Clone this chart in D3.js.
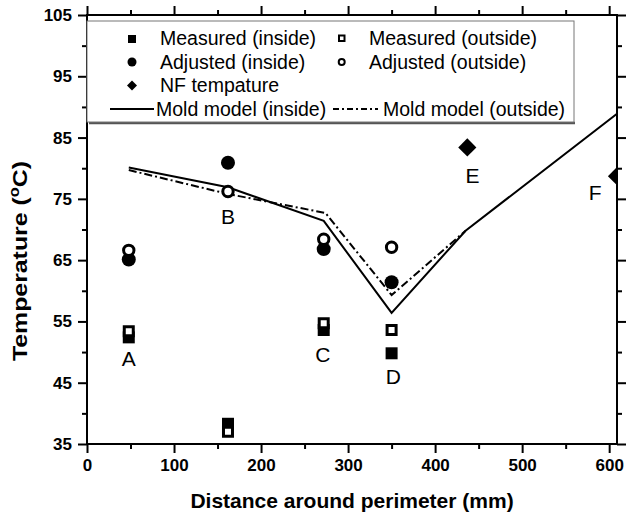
<!DOCTYPE html>
<html>
<head>
<meta charset="utf-8">
<script src="https://cdn.jsdelivr.net/npm/d3@7"></script>
<style>
  body { margin: 0; background: #fff; }
  svg { font-family: Arial, "Liberation Sans", sans-serif; }
  .tick text { font-weight: bold; font-size: 17px; fill: #000; }
</style>
</head>
<body>
<div id="root"></div>
<script>
// measurement sites A-D
var siteX = [48, 162, 272, 350];
var measuredInside = [52.4, 38.3, 53.6, 49.8];
var measuredOutside = [53.4, 37.0, 54.7, 53.6];
var adjustedInside = [65.1, 80.9, 66.8, 61.4];
var adjustedOutside = [66.6, 76.2, 68.4, 67.1];

// NF temperature (E, F)
var nfX = [437, 609];
var nfTemp = [83.4, 78.7];

// mold model lines
var moldInX = [48, 162, 272, 350, 435, 609];
var moldInside = [80.1, 76.9, 71.4, 56.4, 69.8, 88.9];
var moldOutX = [48, 162, 274, 350, 435];
var moldOutside = [79.7, 75.8, 72.7, 59.3, 69.8];

// site letters
var siteNames = ["A", "B", "C", "D", "E", "F"];
var nameX = [48, 162, 271, 352, 443, 584];
var nameY = [48.9, 72.1, 49.6, 46.1, 78.8, 76.0];

var xTicks = [0, 100, 200, 300, 400, 500, 600];
var yTicks = [35, 45, 55, 65, 75, 85, 95, 105];

var margin = {top: 15, right: 12, bottom: 74, left: 87};
var W = 629, H = 518;
var width = W - margin.left - margin.right,
    height = H - margin.top - margin.bottom;

var svg = d3.select("#root").append("svg")
    .attr("width", W)
    .attr("height", H);

var g = svg.append("g")
    .attr("transform", "translate(" + margin.left + "," + margin.top + ")");

var x = d3.scaleLinear().domain([0, 609]).range([0, width]);
var y = d3.scaleLinear().domain([35, 105]).range([height, 0]);

svg.append("defs").append("clipPath").attr("id", "clip")
  .append("rect").attr("width", width).attr("height", height);

// minor ticks
var xMinor = d3.range(50, 609, 100);
var yMinor = d3.range(40, 105, 10);

function minorAxis(axis, vals) {
    return axis.tickValues(vals).tickSize(5).tickFormat("");
}

g.append("g").attr("transform", "translate(0," + height + ")")
    .call(minorAxis(d3.axisBottom(x), xMinor));
g.append("g").call(minorAxis(d3.axisTop(x), xMinor));
g.append("g").call(minorAxis(d3.axisLeft(y), yMinor));
g.append("g").attr("transform", "translate(" + width + ",0)")
    .call(minorAxis(d3.axisRight(y), yMinor));

var gx = g.append("g").attr("transform", "translate(0," + height + ")")
    .call(d3.axisBottom(x).tickValues(xTicks).tickSize(9).tickPadding(6));
g.append("g").call(d3.axisTop(x).tickValues(xTicks).tickSize(9).tickFormat(""));
var gy = g.append("g")
    .call(d3.axisLeft(y).tickValues(yTicks).tickSize(9).tickPadding(6));
g.append("g").attr("transform", "translate(" + width + ",0)")
    .call(d3.axisRight(y).tickValues(yTicks).tickSize(9).tickFormat(""));

g.selectAll(".domain").attr("stroke-width", 2).attr("d", null);
g.selectAll(".tick line").attr("stroke-width", 2);

// frame
g.append("rect").attr("width", width).attr("height", height)
    .attr("fill", "none").attr("stroke", "#000").attr("stroke-width", 2);

var plot = g.append("g").attr("clip-path", "url(#clip)");

var line = d3.line().x(function (d) { return x(d[0]); }).y(function (d) { return y(d[1]); });

plot.append("path")
    .datum(d3.zip(moldInX, moldInside))
    .attr("d", line)
    .attr("fill", "none").attr("stroke", "#000").attr("stroke-width", 2);

plot.append("path")
    .datum(d3.zip(moldOutX, moldOutside))
    .attr("d", line)
    .attr("fill", "none").attr("stroke", "#000").attr("stroke-width", 2)
    .attr("stroke-dasharray", "8,3,2,3");

var sq = d3.symbol().type(d3.symbolSquare);

function squares(vals, hollow) {
    plot.selectAll(null).data(d3.zip(siteX, vals)).enter().append("path")
        .attr("transform", function (d) { return "translate(" + x(d[0]) + "," + y(d[1]) + ")"; })
        .attr("d", sq.size(hollow ? 81 : 144)())
        .attr("fill", hollow ? "#fff" : "#000")
        .attr("stroke", hollow ? "#000" : "none")
        .attr("stroke-width", 3);
}

function circles(vals, hollow) {
    plot.selectAll(null).data(d3.zip(siteX, vals)).enter().append("circle")
        .attr("cx", function (d) { return x(d[0]); })
        .attr("cy", function (d) { return y(d[1]); })
        .attr("r", hollow ? 5.2 : 7)
        .attr("fill", hollow ? "#fff" : "#000")
        .attr("stroke", hollow ? "#000" : "none")
        .attr("stroke-width", 3);
}

squares(measuredInside, false);
squares(measuredOutside, true);
circles(adjustedInside, false);
circles(adjustedOutside, true);

plot.selectAll(null).data(d3.zip(nfX, nfTemp)).enter().append("path")
    .attr("transform", function (d) { return "translate(" + x(d[0]) + "," + y(d[1]) + ") rotate(45)"; })
    .attr("d", sq.size(165)())
    .attr("fill", "#000");

g.selectAll(".site").data(siteNames).enter().append("text")
    .attr("x", function (d, i) { return x(nameX[i]); })
    .attr("y", function (d, i) { return y(nameY[i]); })
    .attr("dy", "0.36em")
    .attr("text-anchor", "middle")
    .attr("font-size", 21)
    .text(function (d) { return d; });

// legend
var leg = svg.append("g");
leg.append("line").attr("x1", 89).attr("x2", 575).attr("y1", 123).attr("y2", 123)
    .attr("stroke", "#555").attr("stroke-width", 2.5);
leg.append("rect").attr("x", 87).attr("y", 21).attr("width", 487).attr("height", 101)
    .attr("fill", "#fff").attr("stroke", "#777").attr("stroke-width", 1);

var rows = [45, 68.5, 92, 115.5];
function legText(tx, ty, s) {
    leg.append("text").attr("x", tx).attr("y", ty).attr("font-size", 19.5).text(s);
}
// col 1
leg.append("rect").attr("x", 128).attr("y", rows[0] - 10).attr("width", 8).attr("height", 8).attr("fill", "#000");
legText(160, rows[0], "Measured (inside)");
leg.append("circle").attr("cx", 132).attr("cy", rows[1] - 6.5).attr("r", 4.5).attr("fill", "#000");
legText(160, rows[1], "Adjusted (inside)");
leg.append("path").attr("transform", "translate(132," + (rows[2] - 6.5) + ") rotate(45)")
    .attr("d", sq.size(50)()).attr("fill", "#000");
legText(160, rows[2], "NF tempature");
leg.append("line").attr("x1", 110).attr("x2", 154).attr("y1", rows[3] - 6.5).attr("y2", rows[3] - 6.5)
    .attr("stroke", "#000").attr("stroke-width", 2);
legText(156, rows[3], "Mold model (inside)");
// col 2
leg.append("rect").attr("x", 339).attr("y", rows[0] - 9.5).attr("width", 5.5).attr("height", 5.5)
    .attr("fill", "#fff").attr("stroke", "#000").attr("stroke-width", 2);
legText(369, rows[0], "Measured (outside)");
leg.append("circle").attr("cx", 341.7).attr("cy", rows[1] - 6.5).attr("r", 3)
    .attr("fill", "#fff").attr("stroke", "#000").attr("stroke-width", 2);
legText(369, rows[1], "Adjusted (outside)");
leg.append("line").attr("x1", 333).attr("x2", 378).attr("y1", rows[3] - 6.5).attr("y2", rows[3] - 6.5)
    .attr("stroke", "#000").attr("stroke-width", 2).attr("stroke-dasharray", "6,3,2,3");
legText(383, rows[3], "Mold model (outside)");

// axis titles
svg.append("text")
    .attr("x", margin.left + width / 2).attr("y", 508)
    .attr("text-anchor", "middle")
    .attr("font-size", 21).attr("font-weight", "bold")
    .text("Distance around perimeter (mm)");

var yt = svg.append("text")
    .attr("transform", "translate(27,261) rotate(-90)")
    .attr("text-anchor", "middle")
    .attr("font-size", 21).attr("font-weight", "bold")
    .attr("textLength", 200).attr("lengthAdjust", "spacingAndGlyphs");
yt.append("tspan").text("Temperature (");
yt.append("tspan").attr("font-size", 14).attr("dy", -8).text("o");
yt.append("tspan").attr("dy", 8).text("C)");
</script>
</body>
</html>
